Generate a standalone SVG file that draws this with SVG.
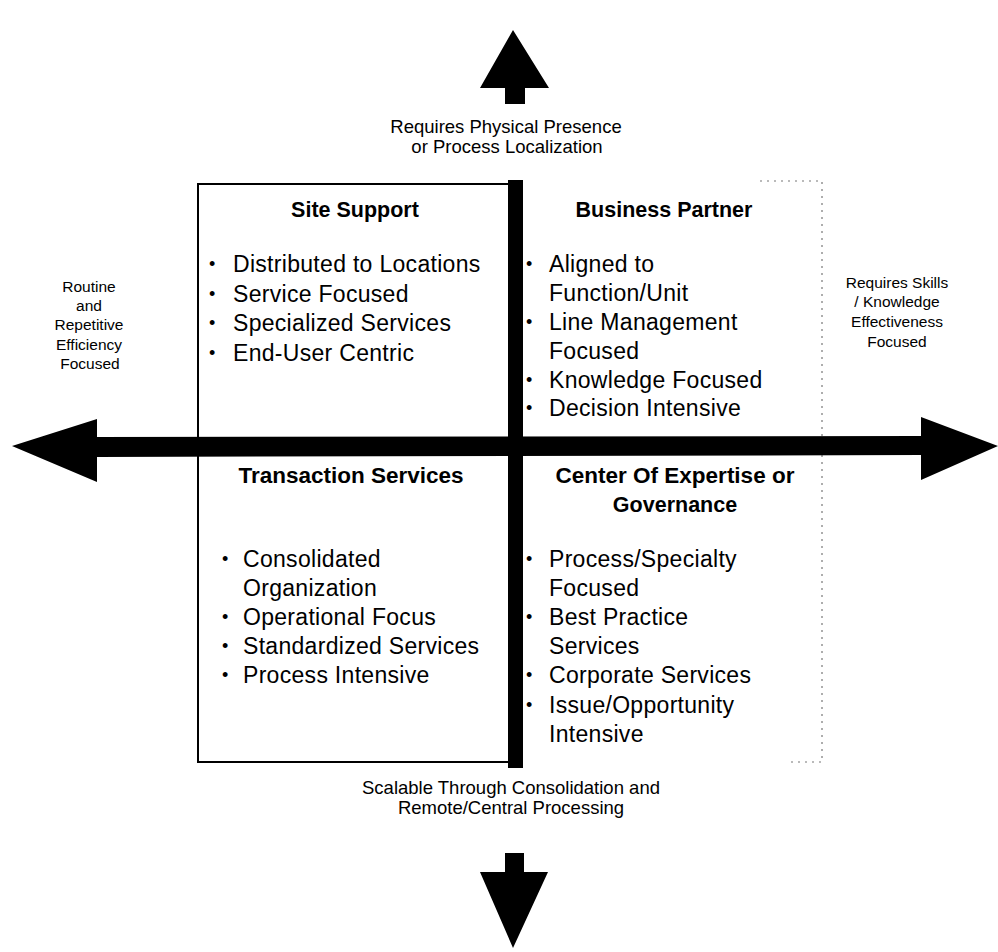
<svg xmlns="http://www.w3.org/2000/svg" width="998" height="952" viewBox="0 0 998 952">
  <style>
    text { font-family: "Liberation Sans", Arial, sans-serif; fill: #000; }
    .lbl { font-size: 18.5px; text-anchor: middle; }
    .side { font-size: 15.5px; text-anchor: middle; }
    .ttl { font-size: 21.5px; font-weight: bold; text-anchor: middle; }
    .wide { font-size: 22.5px; }
    .itm { font-size: 23px; letter-spacing: 0.3px; }
    .bul { font-size: 18px; }
    .box { fill: #fff; stroke: #000; stroke-width: 2; }
    .dot { fill: none; stroke: #777; stroke-width: 1.2; stroke-dasharray: 2 5; }
    .arrow { fill: #000; }
  </style>
  <rect width="998" height="952" fill="#fff"/>

  <!-- quadrant frames -->
  <g id="frames">
    <rect class="box" x="198" y="184" width="312" height="578"/>
    <path class="dot" d="M 760 181 H 822 V 762 H 790"/>
  </g>

  <!-- axis arrows -->
  <g id="connectors">
    <rect class="arrow" x="508" y="180" width="15" height="588"/>
    <polygon class="arrow" points="513,30 549,88 525,88 525,104 505,104 505,88 480,88"/>
    <polygon class="arrow" points="505,853 524,853 524,872 548,872 513,948 480,872 505,872"/>
    <polygon class="arrow" points="12,446 97,419 97,437 921,436 921,417 998,446 921,480 921,455 97,457 97,482"/>
  </g>

  <g id="top-label">
    <text class="lbl" x="506" y="133">Requires Physical Presence</text>
    <text class="lbl" x="507" y="153">or Process Localization</text>
  </g>
  <g id="bottom-label">
    <text class="lbl" x="511" y="794">Scalable Through Consolidation and</text>
    <text class="lbl" x="511" y="814">Remote/Central Processing</text>
  </g>
  <g id="left-label">
    <text class="side" x="89" y="292">Routine</text>
    <text class="side" x="89" y="311">and</text>
    <text class="side" x="89" y="330">Repetitive</text>
    <text class="side" x="89" y="350">Efficiency</text>
    <text class="side" x="90" y="369">Focused</text>
  </g>
  <g id="right-label">
    <text class="side" x="897" y="288">Requires Skills</text>
    <text class="side" x="897" y="307">/ Knowledge</text>
    <text class="side" x="897" y="327">Effectiveness</text>
    <text class="side" x="897" y="347">Focused</text>
  </g>

  <g id="site-support">
    <text class="ttl" x="355" y="217">Site Support</text>
    <text class="bul" x="209" y="270">•</text><text class="itm" x="233" y="272">Distributed to Locations</text>
    <text class="bul" x="209" y="300">•</text><text class="itm" x="233" y="302">Service Focused</text>
    <text class="bul" x="209" y="329">•</text><text class="itm" x="233" y="331">Specialized Services</text>
    <text class="bul" x="209" y="359">•</text><text class="itm" x="233" y="361">End-User Centric</text>
  </g>

  <g id="business-partner">
    <text class="ttl" x="664" y="217">Business Partner</text>
    <text class="bul" x="526" y="270">•</text><text class="itm" x="549" y="272">Aligned to</text>
    <text class="itm" x="549" y="301">Function/Unit</text>
    <text class="bul" x="526" y="328">•</text><text class="itm" x="549" y="330">Line Management</text>
    <text class="itm" x="549" y="359">Focused</text>
    <text class="bul" x="526" y="386">•</text><text class="itm" x="549" y="388">Knowledge Focused</text>
    <text class="bul" x="526" y="414">•</text><text class="itm" x="549" y="416">Decision Intensive</text>
  </g>

  <g id="transaction-services">
    <text class="ttl wide" x="351" y="483">Transaction Services</text>
    <text class="bul" x="222" y="565">•</text><text class="itm" x="243" y="567">Consolidated</text>
    <text class="itm" x="243" y="596">Organization</text>
    <text class="bul" x="222" y="623">•</text><text class="itm" x="243" y="625">Operational Focus</text>
    <text class="bul" x="222" y="652">•</text><text class="itm" x="243" y="654">Standardized Services</text>
    <text class="bul" x="222" y="681">•</text><text class="itm" x="243" y="683">Process Intensive</text>
  </g>

  <g id="center-of-expertise">
    <text class="ttl wide" x="675" y="483">Center Of Expertise or</text>
    <text class="ttl" x="675" y="512">Governance</text>
    <text class="bul" x="526" y="565">•</text><text class="itm" x="549" y="567">Process/Specialty</text>
    <text class="itm" x="549" y="596">Focused</text>
    <text class="bul" x="526" y="623">•</text><text class="itm" x="549" y="625">Best Practice</text>
    <text class="itm" x="549" y="654">Services</text>
    <text class="bul" x="526" y="681">•</text><text class="itm" x="549" y="683">Corporate Services</text>
    <text class="bul" x="526" y="711">•</text><text class="itm" x="549" y="713">Issue/Opportunity</text>
    <text class="itm" x="549" y="742">Intensive</text>
  </g>
</svg>
